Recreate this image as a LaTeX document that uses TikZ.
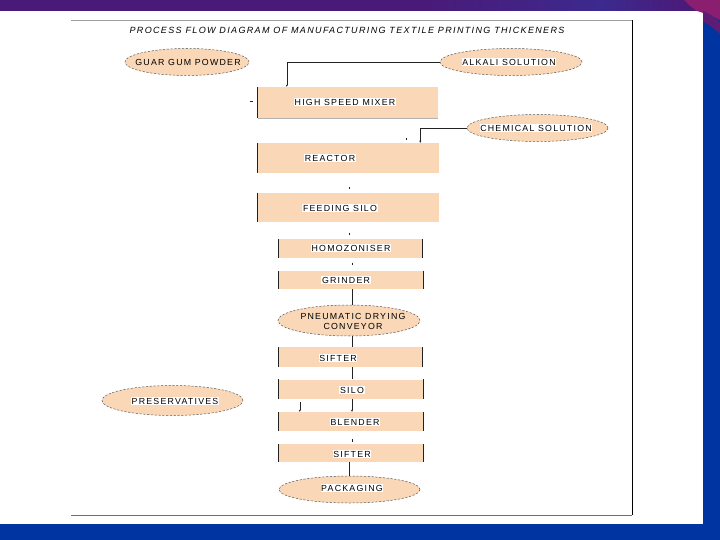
\documentclass[tikz,border=0pt]{standalone}
\usepackage{fontspec}
\setmainfont{Liberation Sans}
\newfontfamily\labfam{Liberation Sans}[LetterSpace=14]
\newfontfamily\titfam{Liberation Sans}[LetterSpace=15]
\usetikzlibrary{shapes.geometric,arrows.meta,calc}
\definecolor{peach}{HTML}{FAD7B6}
\definecolor{bandblue}{HTML}{0034A0}
\definecolor{bandpurple}{HTML}{4A1A78}
\definecolor{bandviolet}{HTML}{3C2A8E}
\definecolor{swoosh}{HTML}{8A1F70}
\definecolor{ellc}{HTML}{5A5A5A}
\definecolor{edgec}{HTML}{222222}
\begin{document}
\begin{tikzpicture}[x=1pt,y=-1pt,
  boxnode/.style={rectangle,fill=peach,draw=none,inner sep=0pt},
  ellnode/.style={ellipse,fill=peach,draw=ellc,dash pattern=on 2.2pt off 1.6pt,line width=0.5pt,inner sep=0pt},
  lab/.style={fill=white,inner sep=0.7pt,font=\labfam\fontsize{8.8}{9}\selectfont},
  labnf/.style={inner sep=0.7pt,font=\labfam\fontsize{8.8}{9}\selectfont,align=center},
  conn/.style={draw=edgec,line width=0.6pt},
  arr/.style={conn,-{Stealth[length=2.2pt,width=2pt]}},
  tickmark/.style={draw=edgec,line width=1pt},
  edgeline/.style={draw=edgec,line width=0.8pt}]
\useasboundingbox (0,0) rectangle (720,540);
% background
\fill[white] (0,0) rectangle (720,540);
\fill[bandpurple] (0,0) rectangle (720,11);
\shade[left color=bandpurple,right color=bandviolet] (420,0) rectangle (600,11);
\shade[left color=bandviolet,right color=bandpurple] (600,0) rectangle (690,11);
\fill[bandblue] (703,11) rectangle (720,540);
\fill[bandblue] (0,524) rectangle (720,540);
\fill[swoosh] (684,0) -- (720,0) -- (720,20) .. controls (712,16) and (704,13) .. (697,11) .. controls (692,8) and (688,4) .. (684,0) -- cycle;
\fill[bandpurple!70!swoosh] (703,11) .. controls (710,14) and (716,18) .. (720,22) -- (720,34) .. controls (714,28) and (708,24) .. (703,22) -- cycle;
% frame
\draw[gray!75,line width=0.8pt] (71,20.5) -- (632,20.5);
\draw[black,line width=0.9pt] (632,20.5) -- (632,515);
\draw[gray!70!purple,line width=0.8pt] (71,515) -- (632,515);
% title
\node[font=\titfam\itshape\fontsize{9}{10}\selectfont] (title) at (347,30.5) {PROCESS FLOW DIAGRAM OF MANUFACTURING TEXTILE PRINTING THICKENERS};
% ellipses
\node[ellnode,minimum width=124pt,minimum height=27pt] (guar) at (187,62) {};
\node[labnf] (guart) at (188,62) {GUAR GUM POWDER};
\node[ellnode,minimum width=142pt,minimum height=27pt] (alkali) at (511,62) {};
\node[lab] (alkalit) at (509,62) {ALKALI SOLUTION};
\node[ellnode,minimum width=141pt,minimum height=27pt] (chem) at (537.5,128) {};
\node[lab] (chemt) at (536,128) {CHEMICAL SOLUTION};
\node[ellnode,minimum width=142pt,minimum height=31pt] (pneu) at (349,320.5) {};
\node[labnf] (pneut) at (353,321.5) {PNEUMATIC DRYING\\[1.5pt]CONVEYOR};
\node[ellnode,minimum width=141pt,minimum height=30pt] (pres) at (172.5,400.5) {};
\node[lab] (prest) at (175,401) {PRESERVATIVES};
\node[ellnode,minimum width=141pt,minimum height=27pt] (pack) at (349.5,489.5) {};
\node[lab] (packt) at (352,488) {PACKAGING};
% boxes
\node[boxnode,minimum width=180pt,minimum height=31pt] (mixer) at (348,102.5) {};
\node[lab] (mixert) at (345,102) {HIGH SPEED MIXER};
\node[boxnode,minimum width=181pt,minimum height=30pt] (reactor) at (348.5,158) {};
\node[lab] (reactort) at (330,158) {REACTOR};
\node[boxnode,minimum width=181pt,minimum height=29pt] (feed) at (348.5,207.5) {};
\node[lab] (feedt) at (340,208) {FEEDING SILO};
\node[boxnode,minimum width=143pt,minimum height=19pt] (homo) at (350.5,248.5) {};
\node[lab] (homot) at (351,248) {HOMOZONISER};
\node[boxnode,minimum width=144pt,minimum height=18pt] (grind) at (351,280) {};
\node[lab] (grindt) at (346,280) {GRINDER};
\node[boxnode,minimum width=143pt,minimum height=20pt] (sifta) at (350.5,357) {};
\node[lab] (siftat) at (338,358) {SIFTER};
\node[boxnode,minimum width=144pt,minimum height=19pt] (silo) at (351,389) {};
\node[lab] (silot) at (352,390) {SILO};
\node[boxnode,minimum width=144pt,minimum height=19pt] (blend) at (351,421.5) {};
\node[lab] (blendt) at (355,422) {BLENDER};
\node[boxnode,minimum width=144pt,minimum height=18pt] (siftb) at (351,453) {};
\node[lab] (siftbt) at (352,454) {SIFTER};
% box edges
\foreach \n in {mixer,reactor,feed}{
  \draw[edgeline] (\n.north west) -- (\n.south west);
}
\draw[gray!60,line width=0.5pt] (mixer.south west) -- (mixer.south east);
\foreach \n in {homo,grind,sifta,silo,blend,siftb}{
  \draw[edgeline] (\n.north west) -- (\n.south west);
  \draw[edgeline] (\n.north east) -- (\n.south east);
}
% connectors
\draw[arr] (alkali.west) -| ($(mixer.north west)+(29,0)$);
\draw[arr] (chem.west) -| ($(reactor.north west)+(162.5,0)$);
\draw[conn] ($(grind.south)+(1,0)$) -- ($(pneu.north)+(3,0)$);
\draw[conn] ($(pneu.south)+(3,0)$) -- ($(sifta.north)+(1.5,0)$);
\draw[conn] ($(sifta.south)+(1.5,0)$) -- ($(silo.north)+(1,0)$);
\draw[arr] ($(silo.south)+(1,0)$) -- ($(blend.north)+(1,0)$);
\coordinate (presin) at ($(silo.south west)+(21,3)$);
\draw[arr] (presin) -- ($(blend.north west)+(21,0)$);
\draw[conn] ($(siftb.south)+(-2,0)$) -- ($(pack.north)+(-0.5,0)$);
% small marks
\coordinate (ma) at (250,102);
\coordinate (mb) at (406,138);
\coordinate (mc) at (349,187);
\coordinate (md) at (349,232.5);
\coordinate (me) at (352,262.5);
\coordinate (mf) at (352,439);
\draw[tickmark] (ma) -- ++(2.5,0);
\foreach \m in {mb,mc,md,me,mf}{
  \draw[tickmark] (\m) -- ++(0,2.5);
}
\end{tikzpicture}
\end{document}
